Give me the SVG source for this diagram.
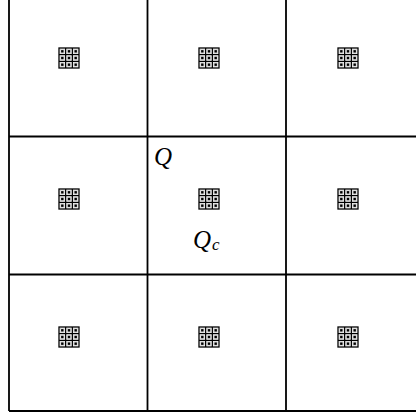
<svg xmlns="http://www.w3.org/2000/svg" xmlns:xlink="http://www.w3.org/1999/xlink" width="416" height="419" viewBox="0 0 416 419">
<style>
.grid{stroke:#000;stroke-width:1.8;fill:none}
.lbl{font-family:"Liberation Serif","DejaVu Serif",serif;font-style:italic;fill:#000}
</style>
<defs>
<g id="icon">
<rect x="0" y="0" width="20" height="20" fill="#fff" stroke="#000" stroke-width="1.3"/>
<path d="M6.67 0V20M13.33 0V20M0 6.67H20M0 13.33H20" stroke="#000" stroke-width="1.3"/>
<g fill="none" stroke="#c8c8c8" stroke-width="0.6">
<rect x="1.4" y="1.4" width="3.87" height="3.87"/><rect x="8.07" y="1.4" width="3.87" height="3.87"/><rect x="14.73" y="1.4" width="3.87" height="3.87"/>
<rect x="1.4" y="8.07" width="3.87" height="3.87"/><rect x="8.07" y="8.07" width="3.87" height="3.87"/><rect x="14.73" y="8.07" width="3.87" height="3.87"/>
<rect x="1.4" y="14.73" width="3.87" height="3.87"/><rect x="8.07" y="14.73" width="3.87" height="3.87"/><rect x="14.73" y="14.73" width="3.87" height="3.87"/>
</g>
<g fill="#000">
<rect x="2.1" y="2.1" width="2.5" height="2.5"/><rect x="8.75" y="2.1" width="2.5" height="2.5"/><rect x="15.4" y="2.1" width="2.5" height="2.5"/>
<rect x="2.1" y="8.75" width="2.5" height="2.5"/><rect x="8.75" y="8.75" width="2.5" height="2.5"/><rect x="15.4" y="8.75" width="2.5" height="2.5"/>
<rect x="2.1" y="15.4" width="2.5" height="2.5"/><rect x="8.75" y="15.4" width="2.5" height="2.5"/><rect x="15.4" y="15.4" width="2.5" height="2.5"/>
</g>
</g>
</defs>
<rect width="416" height="419" fill="#fff"/>
<g id="connectors" class="grid">
<path d="M9 0V411M147.5 0V411M286 0V411"/>
<path d="M9 136.5H416M9 274.5H416M9 411H416"/>
</g>
<g id="cell-0-0"><use xlink:href="#icon" x="59" y="48"/></g>
<g id="cell-0-1"><use xlink:href="#icon" x="199" y="48"/></g>
<g id="cell-0-2"><use xlink:href="#icon" x="338" y="48"/></g>
<g id="cell-1-0"><use xlink:href="#icon" x="59" y="189"/></g>
<g id="cell-1-1"><use xlink:href="#icon" x="199" y="189"/>
<text class="lbl" x="154" y="165" font-size="25">Q</text>
<text class="lbl" x="193" y="248" font-size="25">Q<tspan font-size="17" dx="1" dy="2">c</tspan></text>
</g>
<g id="cell-1-2"><use xlink:href="#icon" x="338" y="189"/></g>
<g id="cell-2-0"><use xlink:href="#icon" x="59" y="327"/></g>
<g id="cell-2-1"><use xlink:href="#icon" x="199" y="327"/></g>
<g id="cell-2-2"><use xlink:href="#icon" x="338" y="327"/></g>
</svg>
